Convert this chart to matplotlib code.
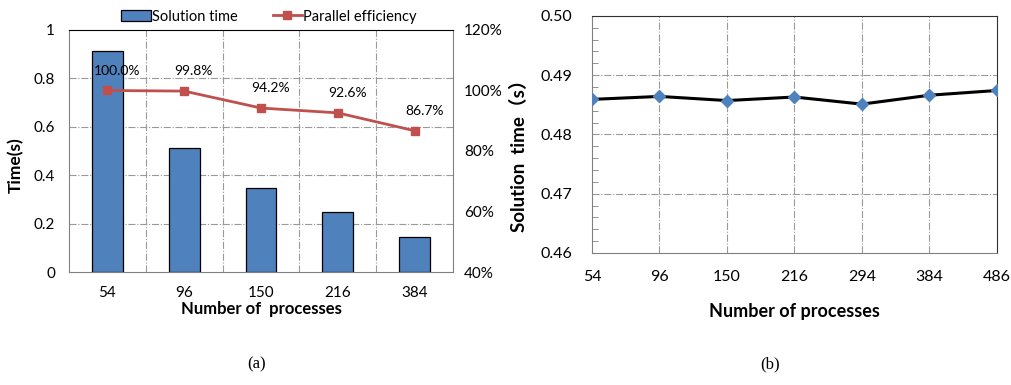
import matplotlib
matplotlib.use("Agg")
import matplotlib.pyplot as plt
from matplotlib.ticker import MultipleLocator, FuncFormatter, FixedLocator

plt.rcParams['font.family'] = ['Lato', 'Noto Sans CJK SC', 'DejaVu Sans']

# ---- data (a)
procs_a = ['54', '96', '150', '216', '384']
sol_time_a = [0.913, 0.514, 0.348, 0.247, 0.146]
efficiency = [100.0, 99.8, 94.2, 92.6, 86.7]
eff_labels = ['100.0%', '99.8%', '94.2%', '92.6%', '86.7%']

# ---- data (b)
procs_b = ['54', '96', '150', '216', '294', '384', '486']
sol_time_b = [0.4859, 0.4864, 0.4857, 0.4863, 0.4851, 0.4866, 0.4874]

fig = plt.figure(figsize=(10.12, 3.85), dpi=100)

grid_kw = dict(color='#9a9a9a', linestyle='-.', linewidth=0.8)

# ================= (a)
ax = fig.add_axes([0.0682, 0.2935, 0.3794, 0.6286])
x = list(range(len(procs_a)))
bars = ax.bar(x, sol_time_a, width=0.4, color='#4F81BD', edgecolor='black',
              linewidth=0.9, label='Solution time', zorder=3)
ax.set_xlim(-0.5, len(procs_a) - 0.5)
ax.set_ylim(0, 1)
ax.set_yticks([0, 0.2, 0.4, 0.6, 0.8, 1.0])
ax.yaxis.set_major_formatter(FuncFormatter(lambda v, p: '0' if v == 0 else ('1' if v == 1 else f'{v:.1f}')))
ax.set_xticks(x)
ax.set_xticklabels(procs_a)
ax.tick_params(axis='both', length=0, labelsize=11, pad=10)
ax.tick_params(axis='x', pad=10)
for yv in [0.2, 0.4, 0.6, 0.8]:
    ax.axhline(yv, zorder=1, **grid_kw)
for xv in [0.5, 1.5, 2.5, 3.5]:
    ax.axvline(xv, zorder=1, **grid_kw)
for s in ['left', 'bottom', 'right']:
    ax.spines[s].set_color('#808080')
ax.spines['top'].set_color('black')
ax.set_ylabel('Time(s)', fontsize=12.5, fontweight='bold')
ax.yaxis.set_label_coords(-0.117, 0.44)
ax.set_xlabel('Number of  processes', fontsize=12, fontweight='bold', labelpad=1)

ax2 = ax.twinx()
ax2.set_ylim(40, 120)
ax2.set_yticks([40, 60, 80, 100, 120])
ax2.yaxis.set_major_formatter(FuncFormatter(lambda v, p: f'{int(v)}%'))
ax2.tick_params(axis='y', length=0, labelsize=11, pad=8)
for s in ax2.spines.values():
    s.set_visible(False)
line, = ax2.plot(x, efficiency, color='#C0504D', marker='s', markersize=6,
                 linewidth=2, label='Parallel efficiency', zorder=4)
for xi, yi, lab in zip(x, efficiency, eff_labels):
    ax2.annotate(lab, (xi, yi), xytext=(7, 10), textcoords='offset points',
                 ha='center', va='bottom', fontsize=10)

fig.legend([bars, line], ['Solution time', 'Parallel efficiency'],
           loc='center', bbox_to_anchor=(0.266, 0.957), ncol=2, frameon=False,
           fontsize=10.5, handlelength=2.0, handletextpad=0.1, columnspacing=2.4)

# ================= (b)
bx = fig.add_axes([0.585, 0.343, 0.400, 0.616])
xb = list(range(len(procs_b)))
bx.plot(xb, sol_time_b, color='black', linewidth=2.2, zorder=3)
bx.plot(xb, sol_time_b, linestyle='none', marker='D', markersize=6,
        color='#4F81BD', zorder=4)
bx.set_xlim(0, len(procs_b) - 1)
bx.set_ylim(0.46, 0.50)
bx.yaxis.set_major_locator(FixedLocator([0.46, 0.47, 0.48, 0.49, 0.50]))
bx.yaxis.set_minor_locator(MultipleLocator(0.002))
bx.yaxis.set_major_formatter(FuncFormatter(lambda v, p: f'{v:.2f}'))
bx.set_xticks(xb)
bx.set_xticklabels(procs_b)
bx.tick_params(axis='both', which='major', length=0, labelsize=11.5, pad=14)
bx.tick_params(axis='x', pad=12)
bx.tick_params(axis='y', which='minor', direction='in', length=4, color='#808080')
for yv in [0.47, 0.48, 0.49]:
    bx.axhline(yv, zorder=1, **grid_kw)
for xv in xb[1:-1]:
    bx.axvline(xv, zorder=1, **grid_kw)
for s in ['left', 'bottom']:
    bx.spines[s].set_color('#808080')
for s in ['top', 'right']:
    bx.spines[s].set_color('#303030')
bx.set_ylabel('Solution  time（s）', fontsize=13.5, fontweight='bold')
bx.yaxis.set_label_coords(-0.158, 0.43)
bx.set_xlabel('Number of processes', fontsize=13, fontweight='bold', labelpad=14)

fig.text(0.254, 0.033, '(a)', family='Liberation Serif', fontsize=12, ha='center', va='bottom')
fig.text(0.761, 0.033, '(b)', family='Liberation Serif', fontsize=12, ha='center', va='bottom')

fig.savefig('out.png', dpi=100)
